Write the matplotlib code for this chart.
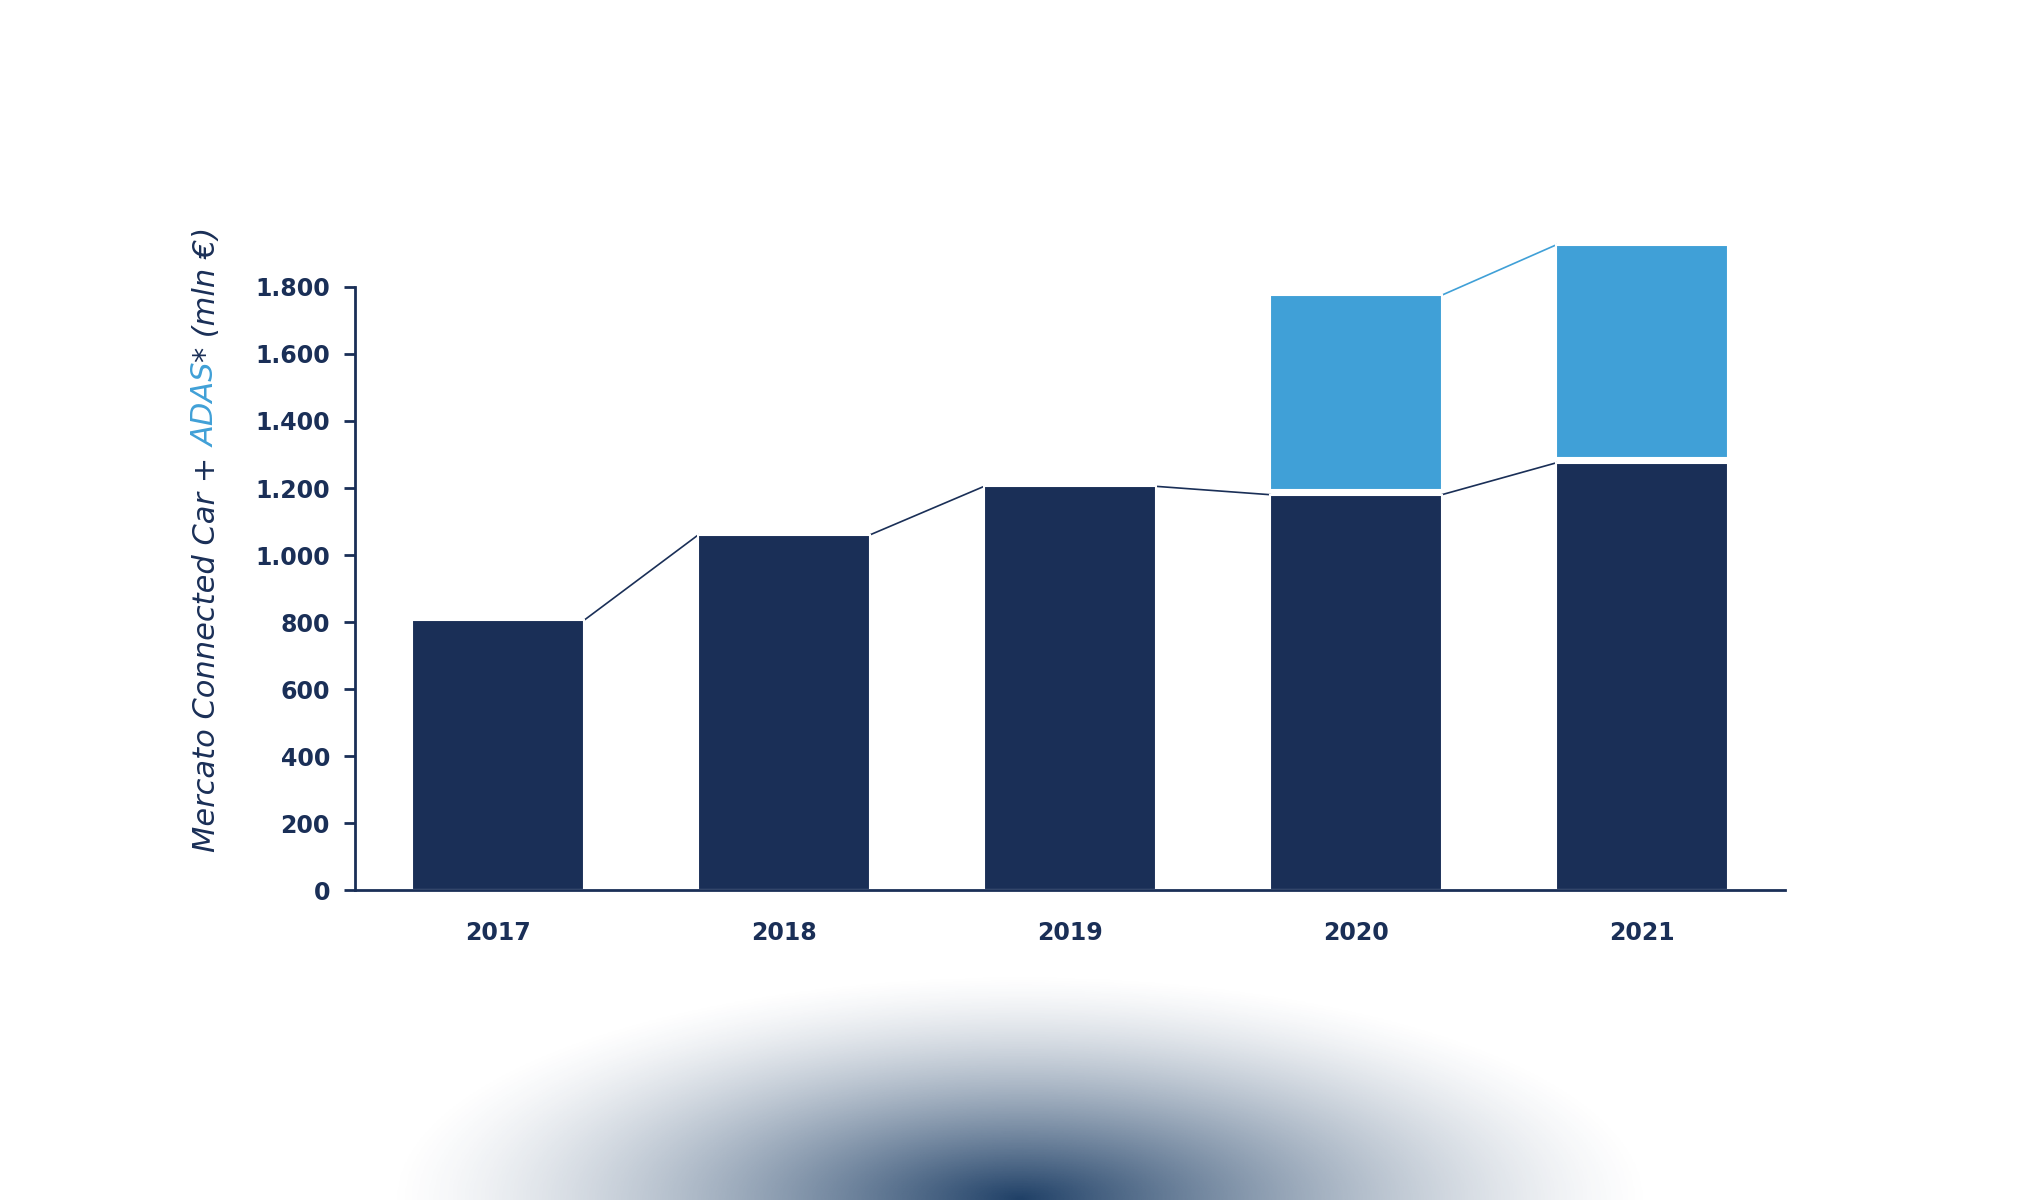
import numpy as np
import matplotlib.pyplot as plt
from matplotlib.transforms import offset_copy

years = ['2017', '2018', '2019', '2020', '2021']
connected_car = [805, 1060, 1205, 1180, 1275]
adas = [0, 0, 0, 580, 635]
yticks = [0, 200, 400, 600, 800, 1000, 1200, 1400, 1600, 1800]

DARK = '#1a2f57'
LIGHT = '#40a0d7'
W = 0.6

fig = plt.figure(figsize=(20.4, 12), dpi=100)

# soft dark glow at the bottom
bg = fig.add_axes([0.1, 0.0, 0.8, 0.2])
xx, yy = np.meshgrid(np.linspace(-1, 1, 400), np.linspace(0, 1, 100))
r = np.sqrt((xx / 0.78) ** 2 + (yy / 0.95) ** 2)
alpha = np.clip(1 - r, 0, 1) ** 1.4
img = np.zeros((100, 400, 4))
img[..., 0], img[..., 1], img[..., 2] = 0x1e / 255, 0x3f / 255, 0x66 / 255
img[..., 3] = alpha
bg.imshow(img, origin='lower', aspect='auto', extent=[-1, 1, 0, 1])
bg.axis('off')

ax = fig.add_axes([0.174, 0.258, 0.701, 0.503])
x = np.arange(len(years))
ax.bar(x, connected_car, width=W, color=DARK, edgecolor='white', linewidth=1.5, clip_on=False, zorder=2)
adas_x = [i for i in x if adas[i] > 0]
ax.bar(adas_x, [adas[i] for i in adas_x], width=W, bottom=[connected_car[i] + 15 for i in adas_x],
       color=LIGHT, edgecolor='white', linewidth=1.5, clip_on=False, zorder=2)

# connecting lines between bar tops
for i in range(len(years) - 1):
    ax.plot([x[i] + W / 2, x[i + 1] - W / 2], [connected_car[i], connected_car[i + 1]],
            color=DARK, lw=1.2, clip_on=False, zorder=1)
    if adas[i] > 0 and adas[i + 1] > 0:
        t0 = connected_car[i] + 15 + adas[i]
        t1 = connected_car[i + 1] + 15 + adas[i + 1]
        ax.plot([x[i] + W / 2, x[i + 1] - W / 2], [t0, t1], color=LIGHT, lw=1.2, clip_on=False, zorder=1)

ax.set_xlim(-0.5, 4.5)
ax.set_ylim(0, 1800)
ax.set_yticks(yticks)
ax.set_yticklabels([f'{v:,}'.replace(',', '.') for v in yticks])
ax.set_xticks(x)
ax.set_xticklabels(years)
for s in ['top', 'right']:
    ax.spines[s].set_visible(False)
for s in ['left', 'bottom']:
    ax.spines[s].set_color(DARK)
    ax.spines[s].set_linewidth(2)
ax.tick_params(axis='y', colors=DARK, length=8, width=2, labelsize=17, pad=10)
ax.tick_params(axis='x', colors=DARK, length=0, labelsize=17, pad=22)
for lbl in ax.get_xticklabels() + ax.get_yticklabels():
    lbl.set_fontweight('bold')

# multi-colour y label
parts = [('Mercato Connected Car + ', DARK), ('ADAS', LIGHT), ('*', DARK), (' (mln €)', DARK)]
fig.canvas.draw()
rend = fig.canvas.get_renderer()
trans = fig.transFigure
xpos, ypos = 0.101, 0.29
off = 0
for txt, col in parts:
    t = fig.text(xpos, ypos, txt, rotation=90, color=col, fontsize=22, style='italic',
                 ha='center', va='bottom',
                 transform=offset_copy(trans, fig=fig, x=0, y=off, units='dots'))
    off += t.get_window_extent(rend).height

fig.savefig('out.png', dpi=100, facecolor='white')
